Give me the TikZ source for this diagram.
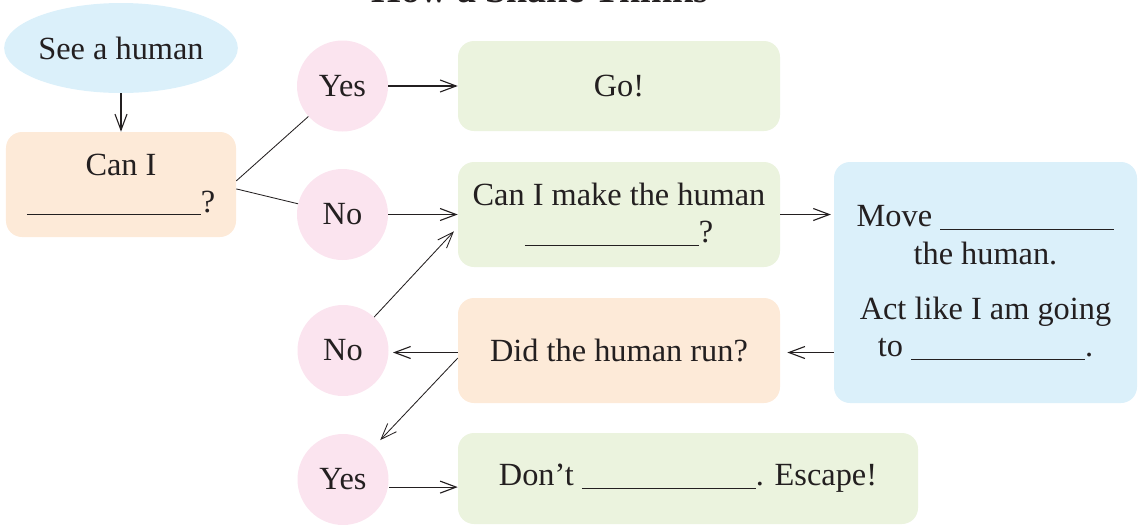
\documentclass[tikz,border=0pt]{standalone}
\usepackage{fontspec}
\setmainfont{Liberation Serif}
\usetikzlibrary{arrows.meta,shapes.geometric}

% Fill colours
\definecolor{skyfill}{RGB}{219,240,250}
\definecolor{peachfill}{RGB}{253,234,216}
\definecolor{leaffill}{RGB}{235,243,222}
\definecolor{rosefill}{RGB}{251,228,239}
\definecolor{inkcol}{RGB}{35,31,32}

% A blank to fill in
\newcommand{\blank}{\rule[-2pt]{4.35cm}{0.6pt}}

\begin{document}
\begin{tikzpicture}[
    txt/.style={font=\fontsize{23}{26.5}\selectfont, text=inkcol},
    box/.style={txt, rounded corners=0.4cm, align=center, inner sep=0pt},
    answer/.style={txt, circle, fill=rosefill, minimum size=2.275cm, inner sep=0pt},
    arr/.style={draw=inkcol, line width=0.8pt, -{Straight Barb[length=4mm, width=3mm]}},
    link/.style={draw=inkcol, line width=0.6pt}
]
    % Page size
    \useasboundingbox (0,0) rectangle (28.45,-13.15);

    % Title (cut off by the top edge)
    \node[font=\fontsize{27}{30}\selectfont\bfseries, text=inkcol, anchor=base] (title) at (13.5,-0.06) {How a Snake Thinks};

    % Start
    \node[txt, ellipse, fill=skyfill, minimum width=5.75cm, minimum height=2.25cm, inner sep=0pt] (see) at (3.025,-1.2) {See a human};
    \node[box, fill=peachfill, minimum width=5.75cm, minimum height=2.625cm] (canI) at (3.025,-4.6125) {Can I\\\blank?};

    % Yes / No answers
    \node[answer] (yesA) at (8.5625,-2.15) {Yes};
    \node[answer] (noA) at (8.5625,-5.3625) {No};
    \node[answer] (noB) at (8.575,-8.7625) {No};
    \node[answer] (yesB) at (8.575,-11.9875) {Yes};

    % Outcomes
    \node[box, fill=leaffill, minimum width=8.05cm, minimum height=2.25cm] (go) at (15.475,-2.15) {Go!};
    \node[box, fill=leaffill, minimum width=8.05cm, minimum height=2.625cm] (make) at (15.475,-5.3625) {Can I make the human\\\blank?};
    \node[box, fill=peachfill, minimum width=8.05cm, minimum height=2.625cm] (did) at (15.475,-8.7625) {Did the human run?};
    \node[box, fill=leaffill, minimum width=11.5cm, minimum height=2.275cm] (dont) at (17.2,-11.9625) {\raisebox{-3pt}{Don’t \blank. Escape!}};
    \node[box, fill=skyfill, minimum width=7.575cm, minimum height=6.025cm] (act) at (24.6375,-7.0625) {%
        Move \blank\\the human.\\[0.45cm]Act like I am going\\to \blank.};

    % Connectors
    \draw[arr] (see) -- (canI);
    \draw[link] ([yshift=0.09cm]canI.east) -- (yesA);
    \draw[link] ([yshift=-0.11cm]canI.east) -- (noA);
    \draw[arr] (yesA.east) -- (go.west);
    \draw[arr] (noA.east) -- (make.west);
    \draw[arr, shorten >=2pt] (make.east) -- (make.east -| act.west);
    \draw[arr, shorten >=5pt] ([yshift=-1.75cm]act.west) -- ([yshift=-1.75cm]act.west -| did.east);
    \draw[arr, shorten >=3pt] ([yshift=-0.05cm]did.west) -- ([yshift=-0.05cm]did.west -| noB.east);
    \draw[arr, line width=0.6pt, shorten >=4pt] (noB) -- ([yshift=-0.32cm]make.west);
    \draw[arr, line width=0.6pt, shorten >=6pt] ([yshift=-0.19cm]did.west) -- (yesB);
    \draw[arr] ([yshift=-0.19cm]yesB.east) -- ([yshift=-0.19cm]yesB.east -| dont.west);
\end{tikzpicture}
\end{document}
